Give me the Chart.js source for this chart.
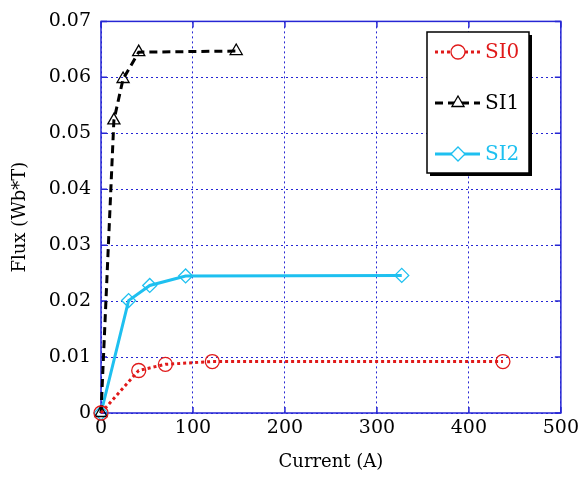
<!DOCTYPE html>
<html><head><meta charset="utf-8">
<script src="https://cdn.jsdelivr.net/npm/chart.js@4"></script>
<style>html,body{margin:0;padding:0;background:#fff}#wrap{width:583px;height:477px}</style>
</head><body><div id="wrap"><canvas id="c" width="583" height="477"></canvas></div>
<script>
const seriesNames = ['SI0', 'SI1', 'SI2'];
const si0X = [0, 41, 70, 121, 437];
const si0Y = [0, 0.0076, 0.0087, 0.0092, 0.0092];
const si1X = [0, 14, 24, 41, 147];
const si1Y = [0, 0.0523, 0.0597, 0.0645, 0.0647];
const si2X = [0, 30, 53, 92, 327];
const si2Y = [0, 0.0201, 0.0228, 0.0245, 0.0246];
const xTicks = [0, 100, 200, 300, 400, 500];
const yTicks = [0, 0.01, 0.02, 0.03, 0.04, 0.05, 0.06, 0.07];

const FONT = 'DejaVu Serif';
const BLUE = '#2626d4';
const colors = ['#e01a1a', '#000000', '#1ec0f0'];
const styles = ['circle', 'triangle', 'rectRot'];
const dashes = [[3, 3], [8, 5], []];

function pts(xs, ys) { return xs.map((x, i) => ({x: x, y: ys[i]})); }
const allData = [pts(si0X, si0Y), pts(si1X, si1Y), pts(si2X, si2Y)];

const datasets = allData.map((d, i) => ({
  label: seriesNames[i],
  data: d,
  borderColor: colors[i],
  borderWidth: 3,
  borderDash: dashes[i],
  pointStyle: styles[i],
  pointRadius: 7,
  pointBorderWidth: 1.3,
  pointBackgroundColor: 'rgba(0,0,0,0)',
  pointBorderColor: colors[i],
  showLine: true,
  tension: 0,
  clip: false
}));

const framePlugin = {
  id: 'frame',
  beforeDatasetsDraw(chart) {
    const {ctx, chartArea: a, scales} = chart;
    ctx.save();
    ctx.strokeStyle = BLUE;
    ctx.lineWidth = 1.5;
    ctx.setLineDash([]);
    ctx.strokeRect(a.left, a.top, a.right - a.left, a.bottom - a.top);
    const t = 6;
    ctx.beginPath();
    xTicks.forEach(v => {
      const x = scales.x.getPixelForValue(v);
      ctx.moveTo(x, a.bottom); ctx.lineTo(x, a.bottom - t);
      ctx.moveTo(x, a.top); ctx.lineTo(x, a.top + t);
    });
    yTicks.forEach(v => {
      const y = scales.y.getPixelForValue(v);
      ctx.moveTo(a.left, y); ctx.lineTo(a.left + t, y);
      ctx.moveTo(a.right, y); ctx.lineTo(a.right - t, y);
    });
    ctx.stroke();
    ctx.restore();
  },
  afterDraw(chart) {
    const ctx = chart.ctx;
    const bx = 427, by = 32, bw = 102, bh = 141;
    ctx.save();
    ctx.fillStyle = '#000';
    ctx.fillRect(bx + 3, by + 3, bw, bh);
    ctx.fillStyle = '#fff';
    ctx.fillRect(bx, by, bw, bh);
    ctx.strokeStyle = '#000';
    ctx.lineWidth = 1.5;
    ctx.strokeRect(bx, by, bw, bh);
    const rows = [52, 103, 154];
    rows.forEach((ry, i) => {
      ctx.strokeStyle = colors[i];
      ctx.lineWidth = 3;
      ctx.setLineDash(dashes[i]);
      ctx.beginPath(); ctx.moveTo(435, ry); ctx.lineTo(480, ry); ctx.stroke();
      ctx.setLineDash([]);
      ctx.lineWidth = 1.3;
      ctx.fillStyle = '#fff';
      ctx.strokeStyle = colors[i];
      Chart.helpers.drawPoint(ctx, {pointStyle: styles[i], radius: 7, borderWidth: 1.3}, 458, ry);
      ctx.fillStyle = colors[i];
      ctx.font = '20px "' + FONT + '"';
      ctx.textAlign = 'left';
      ctx.textBaseline = 'middle';
      ctx.fillText(seriesNames[i], 485, ry + 1);
    });
    ctx.restore();
  }
};

new Chart(document.getElementById('c'), {
  type: 'scatter',
  data: {datasets: datasets},
  plugins: [framePlugin],
  options: {
    responsive: false,
    animation: false,
    layout: {padding: {top: 17, right: 22, left: 6, bottom: 0}},
    plugins: {legend: {display: false}, tooltip: {enabled: false}},
    scales: {
      x: {
        type: 'linear', min: 0, max: 500,
        afterBuildTicks: s => { s.ticks = xTicks.map(v => ({value: v})); },
        afterFit: s => { s.height = 64; },
        ticks: {color: '#000', font: {family: FONT, size: 19}, padding: 4, maxRotation: 0},
        grid: {color: BLUE, lineWidth: 1, drawTicks: false},
        border: {display: false, dash: [2, 3]},
        title: {display: true, text: 'Current (A)', color: '#000', font: {family: FONT, size: 18}, padding: {top: 4}}
      },
      y: {
        type: 'linear', min: 0, max: 0.07,
        afterBuildTicks: s => { s.ticks = yTicks.map(v => ({value: v})); },
        afterFit: s => { s.width = 95; },
        ticks: {color: '#000', font: {family: FONT, size: 19}, padding: 10,
          callback: v => v === 0 ? '0' : v.toFixed(2)},
        grid: {color: BLUE, lineWidth: 1, drawTicks: false},
        border: {display: false, dash: [2, 3]},
        title: {display: true, text: 'Flux (Wb*T)', color: '#000', font: {family: FONT, size: 18}, padding: {bottom: 4}}
      }
    }
  }
});
</script></body></html>
